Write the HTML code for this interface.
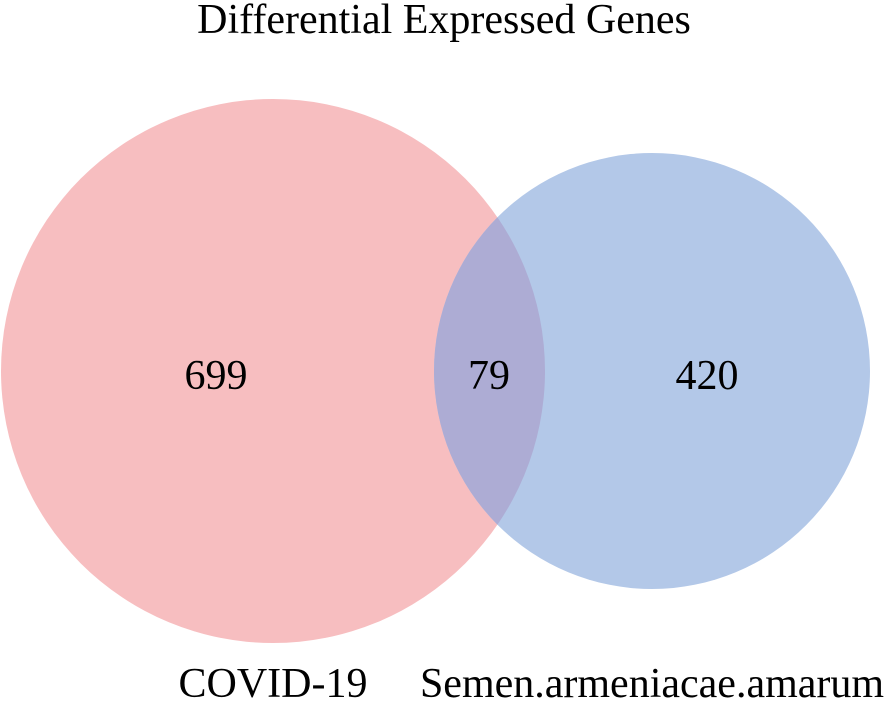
<!DOCTYPE html>
<html><head><style>html,body{margin:0;padding:0;background:#fff}</style></head>
<body>
<svg width="889" height="700" xmlns="http://www.w3.org/2000/svg" font-family="Liberation Serif, serif">
<defs><clipPath id="c"><circle cx="273" cy="371" r="272"/></clipPath></defs>
<text x="444" y="33" font-size="42" text-anchor="middle">Differential Expressed Genes</text>
<circle cx="273" cy="371" r="272" fill="#f7bec0"/>
<circle cx="652" cy="371" r="218" fill="#b3c8e8"/>
<circle cx="652" cy="371" r="218" fill="#adacd4" clip-path="url(#c)"/>
<text x="216" y="389" font-size="42" text-anchor="middle">699</text>
<text x="489" y="389" font-size="42" text-anchor="middle">79</text>
<text x="707" y="389" font-size="42" text-anchor="middle">420</text>
<text x="273" y="697" font-size="42" text-anchor="middle">COVID-19</text>
<text x="652" y="697" font-size="42" text-anchor="middle">Semen.armeniacae.amarum</text>
</svg>
</body></html>
